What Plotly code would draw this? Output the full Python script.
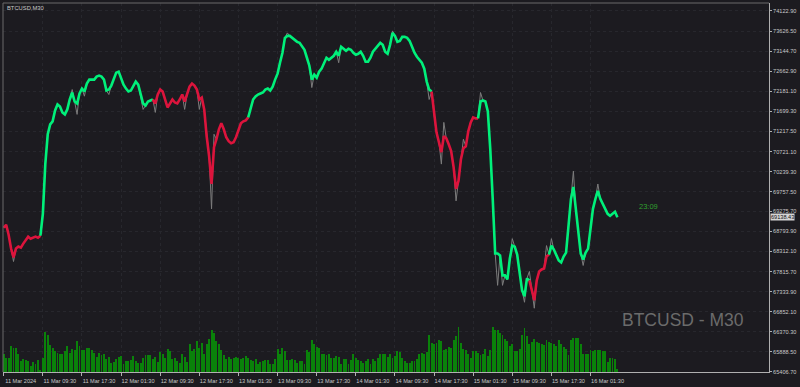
import plotly.graph_objects as go

symbol = "BTCUSD"
timeframe = "M30"

# close price per 30-min bar, 11 Mar 2024 01:30 -> 16 Mar 2024 07:00
close = [
    68884, 68956, 68716, 68380, 68164, 68380, 68428, 68404, 68500, 68572, 68668, 68620, 68644, 68668, 68644, 68692,
    69220, 70420, 71140, 71380, 71452, 71716, 71860, 71812, 71668, 71620, 71740, 71980, 72148, 71932, 71884, 72124,
    72244, 72172, 72364, 72460, 72460, 72460, 72532, 72556, 72532, 72460, 72196, 72220, 72316, 72460, 72628, 72652,
    72508, 72340, 72244, 72172, 72196, 72316, 72412, 72340, 72076, 71884, 71836, 71932, 71956, 71980, 71884, 72100,
    72220, 72172, 71980, 71788, 71884, 71980, 71908, 71884, 71980, 72100, 71932, 72100, 72292, 72364, 72316, 72220,
    71980, 72028, 71740, 71092, 70612, 69940, 70828, 71020, 71260, 71404, 71260, 71068, 70972, 70924, 70948, 71068,
    71260, 71404, 71452, 71476, 71548, 71740, 71980, 72052, 72100, 72124, 72148, 72220, 72244, 72196, 72292, 72460,
    72604, 72868, 73108, 73468, 73516, 73516, 73468, 73420, 73372, 73348, 73276, 73180, 72988, 72796, 72460, 72580,
    72508, 72652, 72724, 72844, 72988, 72940, 72988, 73036, 73132, 73036, 73252, 73204, 73156, 73204, 73180, 73108,
    73060, 73084, 73132, 73036, 72892, 72892, 72988, 73132, 73204, 73276, 73348, 73300, 73132, 73084, 73300, 73588,
    73516, 73372, 73396, 73492, 73492, 73468, 73396, 73252, 73108, 73012, 72940, 72868, 72724, 72412, 72220, 72172,
    71620, 71188, 70948, 70708, 71092, 71044, 70900, 70732, 70348, 69820, 70012, 70540, 70804, 70852, 71212, 71428,
    71548, 71524, 71524, 71932, 71956, 71932, 71692, 70780, 69580, 68260, 68260, 68212, 67732, 67732, 67636, 68140,
    68452, 68428, 68236, 67852, 67372, 67228, 67660, 67612, 67372, 67132, 67612, 67828, 67876, 67900, 68188, 68236,
    68452, 68356, 68236, 68092, 68044, 68188, 68284, 68980, 69580, 69868, 69292, 68740, 68260, 68116, 68284, 68380,
    68860, 69340, 69580, 69772, 69580, 69460, 69340, 69220, 69172, 69220, 69268, 69138.43,
]

# bars where the raw price line pokes out of the trend line
wick_bars = [4, 28, 30, 33, 43, 57, 62, 74, 80, 85, 86, 116, 126, 137, 159, 174, 179, 180, 185, 188,
             195, 202, 204, 208, 213, 215, 217, 222, 224, 233, 237, 243]
wick_prices = [68068, 72220, 71620, 72060, 72100, 71740, 71668, 71740, 71740, 69340, 71140, 73588, 72268,
               72868, 73636, 71980, 70420, 71428, 69532, 71020, 72148, 67492, 67492, 68620, 67084, 67828,
               66940, 68452, 68620, 70252, 67972, 69940]

tick_volume = [
    55, 41, 43, 77, 73, 73, 53, 33, 38, 35, 33, 18, 30, 23, 35, 5,
    41, 121, 111, 81, 73, 63, 58, 55, 55, 63, 78, 58, 68, 65, 93, 78,
    65, 65, 73, 71, 65, 58, 45, 58, 51, 53, 38, 45, 28, 31, 38, 45,
    48, 25, 33, 33, 35, 48, 33, 28, 28, 43, 51, 51, 51, 38, 45, 31,
    61, 53, 43, 68, 63, 38, 43, 33, 28, 55, 45, 31, 85, 63, 68, 95,
    73, 88, 55, 85, 101, 128, 118, 93, 83, 65, 51, 38, 45, 38, 43, 45,
    43, 38, 43, 48, 41, 35, 33, 38, 25, 31, 33, 35, 37, 24, 25, 38,
    68, 53, 71, 63, 35, 37, 38, 35, 28, 33, 33, 25, 65, 61, 96, 83,
    75, 73, 55, 53, 51, 53, 43, 41, 48, 45, 25, 38, 38, 25, 35, 53,
    43, 35, 33, 28, 33, 38, 25, 38, 33, 41, 53, 55, 55, 45, 55, 43,
    48, 63, 61, 43, 33, 28, 28, 33, 33, 38, 55, 58, 55, 61, 111, 88,
    83, 88, 98, 95, 65, 68, 75, 73, 98, 108, 135, 88, 68, 65, 53, 41,
    63, 63, 58, 51, 55, 68, 48, 65, 135, 128, 128, 118, 113, 101, 93, 78,
    83, 63, 63, 68, 113, 133, 108, 83, 91, 101, 91, 88, 83, 81, 98, 91,
    88, 85, 78, 98, 83, 75, 68, 51, 98, 103, 103, 103, 83, 53, 53, 53,
    66, 63, 65, 67, 65, 63, 63, 31, 41, 43, 38, 8,
]

trend_breaks = [0, 15, 61, 100, 175, 194, 215, 223, 251]
trend_dir = [-1, 1, -1, 1, -1, 1, -1, 1]

x_tick_bars = [0, 16, 32, 48, 64, 80, 96, 112, 128, 144, 160, 176, 192, 208, 224, 240]
x_tick_labels = ["11 Mar 2024", "11 Mar 09:30", "11 Mar 17:30", "12 Mar 01:30", "12 Mar 09:30",
                 "12 Mar 17:30", "13 Mar 01:30", "13 Mar 09:30", "13 Mar 17:30", "14 Mar 01:30",
                 "14 Mar 09:30", "14 Mar 17:30", "15 Mar 01:30", "15 Mar 09:30", "15 Mar 17:30",
                 "16 Mar 01:30"]
y_tick_values = [74122.90, 73626.50, 73144.70, 72662.90, 72181.10, 71699.30, 71217.50, 70721.10,
                 70239.30, 69757.50, 69275.70, 68793.90, 68312.10, 67815.70, 67333.90, 66852.10,
                 66370.30, 65888.50, 65406.70]
last_price = 69138.43
countdown = "23:09"

# ---------------------------------------------------------------
BG = "#1c1b20"
GRID = "#27272d"
FONT = "Liberation Sans, Arial, sans-serif"
UP = "#00f07a"
DOWN = "#dc143c"

bars = list(range(len(close)))
raw_line = list(close)
for b, p in zip(wick_bars, wick_prices):
    raw_line[b] = p

fig = go.Figure()

fig.add_trace(go.Bar(x=bars, y=tick_volume, yaxis="y2", width=0.38,
                     marker=dict(color="#0a820a", line=dict(width=0)),
                     showlegend=False, hoverinfo="skip"))

fig.add_trace(go.Scatter(x=bars, y=raw_line, mode="lines",
                         line=dict(color="#7c7c7c", width=1),
                         showlegend=False, hoverinfo="skip"))

for i, d in enumerate(trend_dir):
    a, b = trend_breaks[i], trend_breaks[i + 1]
    fig.add_trace(go.Scatter(x=bars[a:b + 1], y=close[a:b + 1], mode="lines",
                             line=dict(color=UP if d > 0 else DOWN, width=2.6),
                             showlegend=False, hoverinfo="skip"))

fig.update_layout(
    width=800, height=387,
    margin=dict(l=3, r=31, t=3, b=13),
    paper_bgcolor=BG, plot_bgcolor=BG,
    bargap=0,
    font=dict(family=FONT, size=5.6, color="#c8c8c8"),
    xaxis=dict(range=[-0.3, 313.0], tickmode="array", tickvals=x_tick_bars, ticktext=x_tick_labels,
               ticks="outside", ticklen=3, tickcolor="#b0b0b0", ticklabelshift=17,
               showline=True, linecolor="#b0b0b0", linewidth=1,
               showgrid=True, gridcolor=GRID, griddash="dot", gridwidth=1,
               zeroline=False, tickfont=dict(size=5.6, color="#c8c8c8")),
    yaxis=dict(side="right", range=[65400, 74310], tickmode="array", tickvals=y_tick_values,
               ticktext=[f"{v:.2f}" for v in y_tick_values],
               ticks="outside", ticklen=2, tickcolor="#b0b0b0",
               showline=True, linecolor="#b0b0b0", linewidth=1,
               showgrid=True, gridcolor=GRID, griddash="dot", gridwidth=1,
               zeroline=False, tickfont=dict(size=5.6, color="#c8c8c8")),
    yaxis2=dict(overlaying="y", range=[0, 1113], visible=False, fixedrange=True),
)

# left / top frame of the chart window
fig.add_shape(type="line", xref="paper", yref="paper", x0=0, x1=0, y0=0, y1=1,
              line=dict(color="#6a6a6a", width=1))
fig.add_shape(type="line", xref="paper", yref="paper", x0=0, x1=1, y0=1, y1=1,
              line=dict(color="#6a6a6a", width=1))

fig.add_annotation(text=f"{symbol},{timeframe}", xref="paper", yref="paper",
                   x=0.003, y=0.986, xanchor="left", yanchor="middle", showarrow=False,
                   font=dict(family=FONT, size=5.8, color="#c8c8c8"))

fig.add_annotation(text=f"{symbol} - {timeframe}", xref="paper", yref="paper",
                   x=0.970, y=0.140, xanchor="right", yanchor="middle", showarrow=False,
                   font=dict(family=FONT, size=17.5, color="#6b6b6b"))

fig.add_annotation(text=countdown, xref="paper", yref="paper",
                   x=0.8277, y=0.449, xanchor="left", yanchor="middle", showarrow=False,
                   font=dict(family=FONT, size=7.5, color="#2fa02f"))

fig.add_annotation(text=f"{last_price:.2f}", xref="paper", yref="y",
                   x=1.0, y=last_price, xanchor="left", yanchor="middle", showarrow=False,
                   xshift=1, bgcolor="#d4d4d4", borderpad=0,
                   font=dict(family=FONT, size=5.6, color="#111111"))

fig.write_html("out.html")
